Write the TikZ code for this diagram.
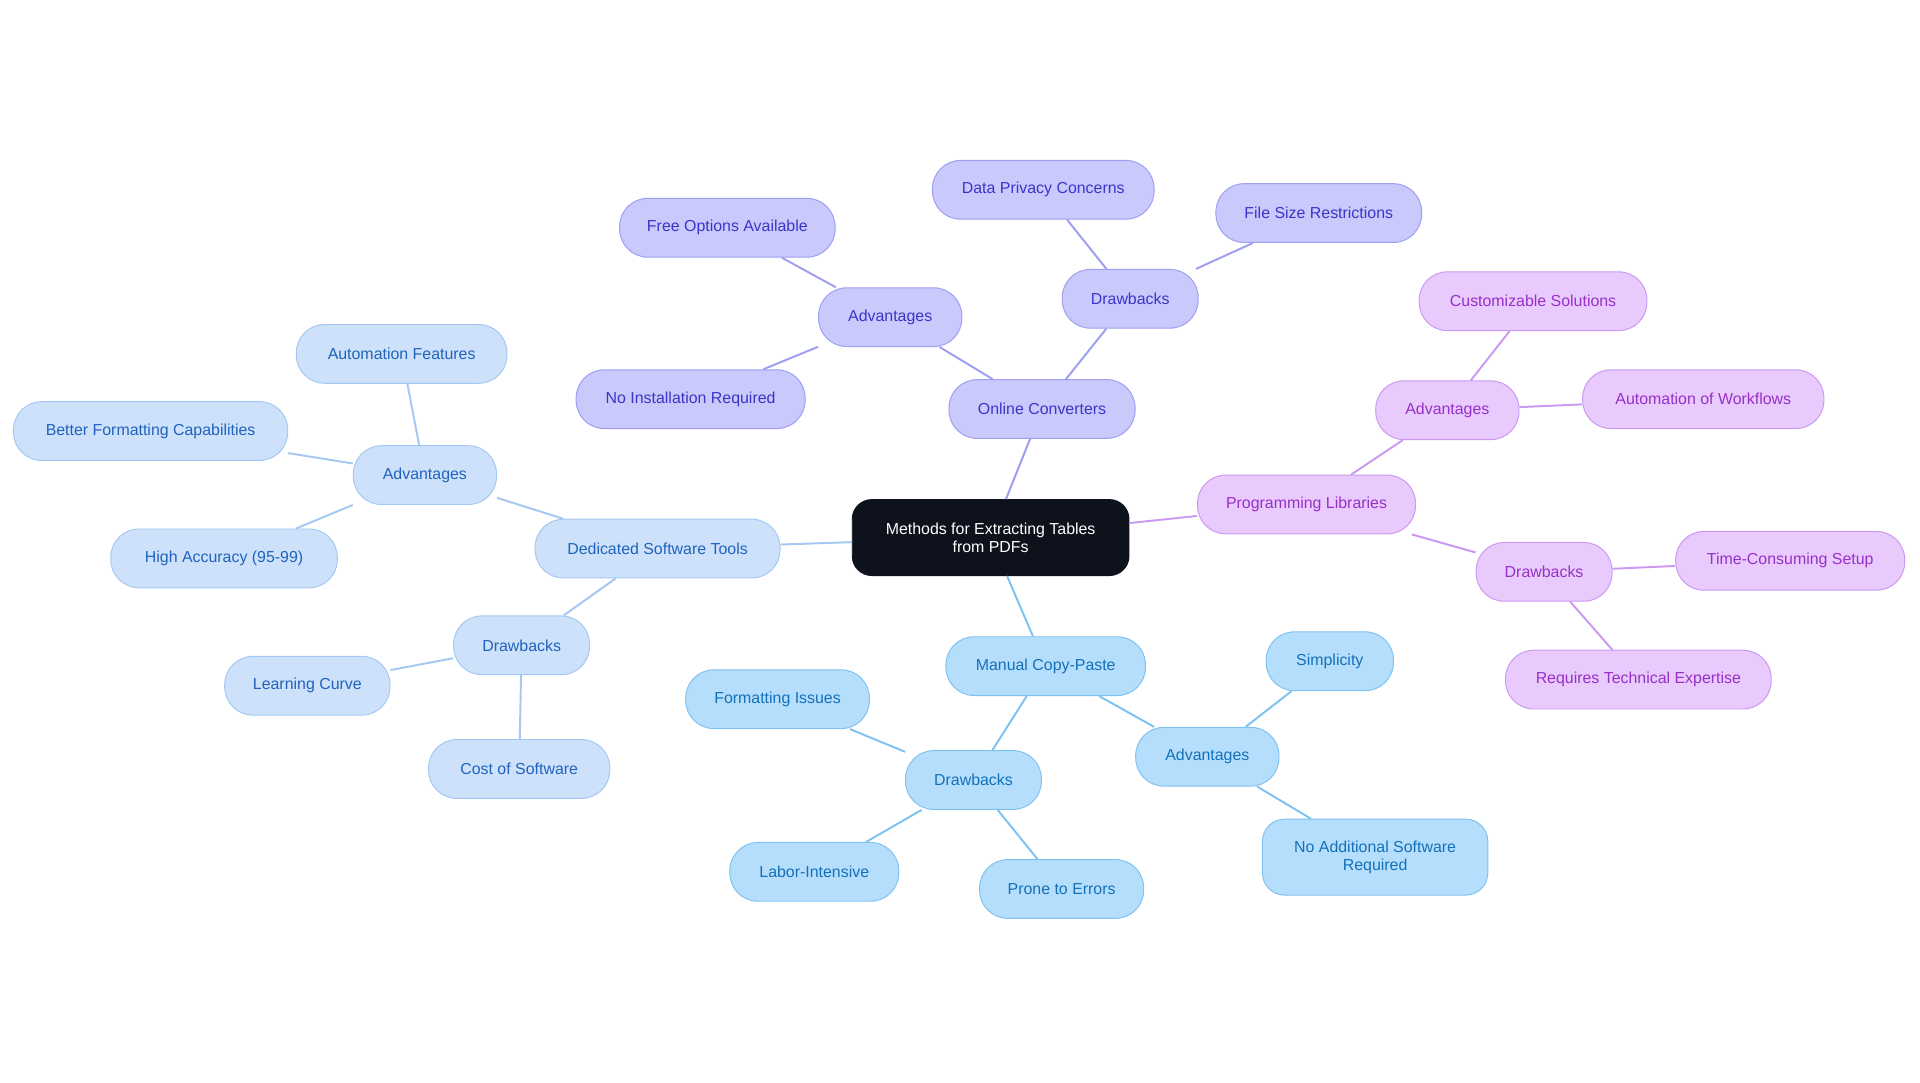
\documentclass[tikz,border=0pt]{standalone}
\usepackage{fontspec}
\setmainfont{Liberation Sans}
\definecolor{rootf}{HTML}{0D121C}
\definecolor{ocf}{HTML}{C9C9FC}\definecolor{ocd}{HTML}{9E9EF2}\definecolor{oct}{HTML}{3A35C8}
\definecolor{plf}{HTML}{E9CAFC}\definecolor{pld}{HTML}{CC99F2}\definecolor{plt}{HTML}{9630C8}
\definecolor{mcf}{HTML}{B5DEFC}\definecolor{mcd}{HTML}{7EC2F2}\definecolor{mct}{HTML}{1470B8}
\definecolor{dsf}{HTML}{CDE2FA}\definecolor{dsd}{HTML}{A4C8F2}\definecolor{dst}{HTML}{2062BE}
\tikzset{
 bx/.style={rounded corners=23pt,minimum height=48pt,inner sep=2pt,align=center,font=\fontsize{13}{15}\selectfont,line width=0.8pt},
 oc/.style={bx,fill=ocf,draw=ocd,text=oct},
 pl/.style={bx,fill=plf,draw=pld,text=plt},
 mc/.style={bx,fill=mcf,draw=mcd,text=mct},
 ds/.style={bx,fill=dsf,draw=dsd,text=dst},
 eoc/.style={draw=ocd,line width=1.6pt},
 epl/.style={draw=pld,line width=1.6pt},
 emc/.style={draw=mcd,line width=1.6pt},
 eds/.style={draw=dsd,line width=1.6pt},
}
\begin{document}
\begin{tikzpicture}[x=1pt,y=-1pt]
\useasboundingbox (0,0) rectangle (1568,884);
\node[bx,fill=rootf,draw=rootf,text=white,minimum width=226pt,minimum height=62pt,rounded corners=16pt] (root) at (809,439) {Methods for Extracting Tables\\from PDFs};
\node[oc,minimum width=152pt] (oc) at (851,334) {Online Converters};
\node[oc,minimum width=117pt] (oca) at (727,259) {Advantages};
\node[oc,minimum width=176pt] (oca1) at (594,186) {Free Options Available};
\node[oc,minimum width=187pt] (oca2) at (564,326) {No Installation Required};
\node[oc,minimum width=111pt] (ocd) at (923,244) {Drawbacks};
\node[oc,minimum width=181pt] (ocd1) at (852,155) {Data Privacy Concerns};
\node[oc,minimum width=168pt] (ocd2) at (1077,174) {File Size Restrictions};
\node[pl,minimum width=178pt] (pl) at (1067,412) {Programming Libraries};
\node[pl,minimum width=117pt] (pla) at (1182,335) {Advantages};
\node[pl,minimum width=186pt] (pla1) at (1252,246) {Customizable Solutions};
\node[pl,minimum width=197pt] (pla2) at (1391,326) {Automation of Workflows};
\node[pl,minimum width=111pt] (pld) at (1261,467) {Drawbacks};
\node[pl,minimum width=187pt] (pld1) at (1462,458) {Time-Consuming Setup};
\node[pl,minimum width=217pt] (pld2) at (1338,555) {Requires Technical Expertise};
\node[mc,minimum width=163pt] (mc) at (854,544) {Manual Copy-Paste};
\node[mc,minimum width=117pt] (mca) at (986,618) {Advantages};
\node[mc,minimum width=104pt] (mca1) at (1086,540) {Simplicity};
\node[mc,minimum width=184pt,minimum height=62pt,rounded corners=18pt] (mca2) at (1123,700) {No Additional Software\\Required};
\node[mc,minimum width=111pt] (mcd) at (795,637) {Drawbacks};
\node[mc,minimum width=150pt] (mcd1) at (635,571) {Formatting Issues};
\node[mc,minimum width=138pt] (mcd2) at (665,712) {Labor-Intensive};
\node[mc,minimum width=134pt] (mcd3) at (867,726) {Prone to Errors};
\node[ds,minimum width=200pt] (ds) at (537,448) {Dedicated Software Tools};
\node[ds,minimum width=117pt] (dsa) at (347,388) {Advantages};
\node[ds,minimum width=172pt] (dsa1) at (328,289) {Automation Features};
\node[ds,minimum width=224pt] (dsa2) at (123,352) {Better Formatting Capabilities};
\node[ds,minimum width=185pt] (dsa3) at (183,456) {High Accuracy (95-99)};
\node[ds,minimum width=111pt] (dsd) at (426,527) {Drawbacks};
\node[ds,minimum width=135pt] (dsd1) at (251,560) {Learning Curve};
\node[ds,minimum width=148pt] (dsd2) at (424,628) {Cost of Software};
\begin{scope}[on background layer/.try]
\end{scope}
\draw[eoc] (root) -- (oc); \draw[eoc] (oc) -- (oca); \draw[eoc] (oca) -- (oca1); \draw[eoc] (oca) -- (oca2);
\draw[eoc] (oc) -- (ocd); \draw[eoc] (ocd) -- (ocd1); \draw[eoc] (ocd) -- (ocd2);
\draw[epl] (root) -- (pl); \draw[epl] (pl) -- (pla); \draw[epl] (pla) -- (pla1); \draw[epl] (pla) -- (pla2);
\draw[epl] (pl) -- (pld); \draw[epl] (pld) -- (pld1); \draw[epl] (pld) -- (pld2);
\draw[emc] (root) -- (mc); \draw[emc] (mc) -- (mca); \draw[emc] (mca) -- (mca1); \draw[emc] (mca) -- (mca2);
\draw[emc] (mc) -- (mcd); \draw[emc] (mcd) -- (mcd1); \draw[emc] (mcd) -- (mcd2); \draw[emc] (mcd) -- (mcd3);
\draw[eds] (root) -- (ds); \draw[eds] (ds) -- (dsa); \draw[eds] (dsa) -- (dsa1); \draw[eds] (dsa) -- (dsa2); \draw[eds] (dsa) -- (dsa3);
\draw[eds] (ds) -- (dsd); \draw[eds] (dsd) -- (dsd1); \draw[eds] (dsd) -- (dsd2);
\end{tikzpicture}
\end{document}
